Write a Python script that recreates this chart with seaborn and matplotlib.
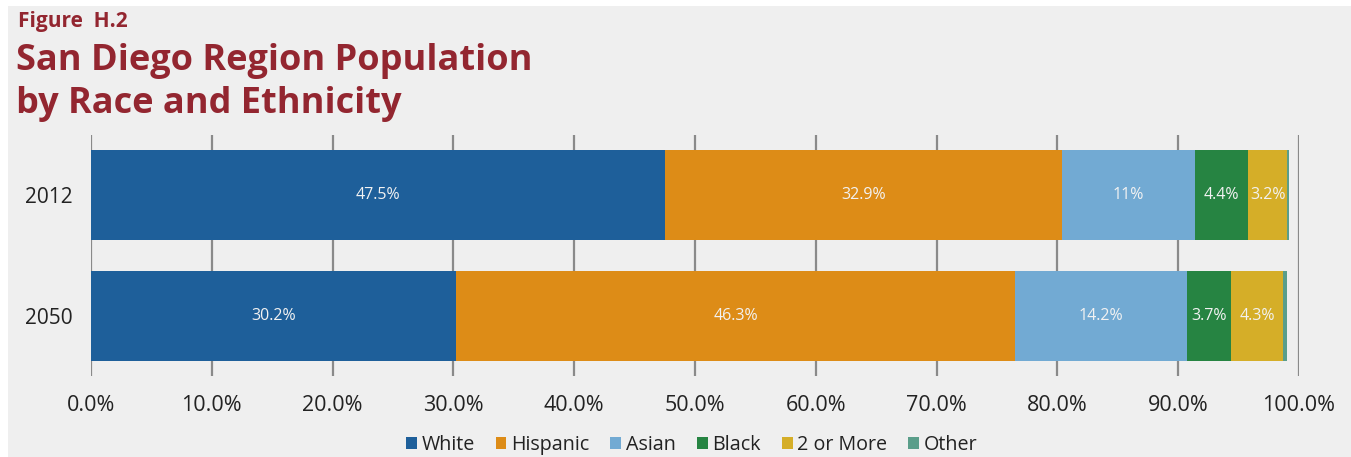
import matplotlib
matplotlib.use("Agg")
import matplotlib.pyplot as plt
import seaborn as sns
import numpy as np
import pandas as pd
from matplotlib.patches import Rectangle

years = ["2012", "2050"]
groups = ["White", "Hispanic", "Asian", "Black", "2 or More", "Other"]
values_2012 = [47.5, 32.9, 11.0, 4.4, 3.2, 0.2]
values_2050 = [30.2, 46.3, 14.2, 3.7, 4.3, 0.3]
labels_2012 = ["47.5%", "32.9%", "11%", "4.4%", "3.2%", ""]
labels_2050 = ["30.2%", "46.3%", "14.2%", "3.7%", "4.3%", ""]
colors = ["#1e5f9a", "#dd8c17", "#72aad3", "#268442", "#d5ae28", "#5a9e8a"]
xticks = [0, 10, 20, 30, 40, 50, 60, 70, 80, 90, 100]

sns.set_theme(style="white")
plt.rcParams["font.family"] = ["Open Sans", "DejaVu Sans"]

BG = "#efefef"
fig = plt.figure(figsize=(13.51, 4.57), dpi=100, facecolor="white")
fig.patches.append(Rectangle((8 / 1351, 0), 1 - 8 / 1351, 1 - 6 / 457,
                             transform=fig.transFigure, facecolor=BG,
                             edgecolor="none", zorder=-10))

ax = fig.add_axes([91 / 1351, (457 - 376) / 457, (1299 - 91) / 1351, (376 - 135) / 457])
ax.set_facecolor("none")

vals = np.array([values_2012, values_2050])
cum = np.cumsum(vals, axis=1)

# draw cumulative bars from longest to shortest so they stack visually
for j in range(len(groups) - 1, -1, -1):
    df = pd.DataFrame({"year": years, "val": cum[:, j]})
    sns.barplot(data=df, x="val", y="year", orient="h", color=colors[j],
                saturation=1, width=0.75, ax=ax, zorder=3, linewidth=0)

labels = [labels_2012, labels_2050]
for i in range(len(years)):
    for j in range(len(groups)):
        if labels[i][j]:
            ax.text(cum[i, j] - vals[i, j] / 2, i, labels[i][j], ha="center",
                    va="center", color="#f2f2f2", fontsize=11.5, zorder=5)

ax.set_xlim(0, 100)
ax.set_ylim(1.5, -0.5)
ax.set_xticks(xticks)
ax.set_xticklabels([f"{t:.1f}%" for t in xticks])
ax.grid(axis="x", color="#8a8a8a", linewidth=1.6, zorder=0)
ax.set_axisbelow(True)
for s in ax.spines.values():
    s.set_visible(False)
ax.tick_params(axis="both", length=0, labelsize=15.5, colors="#222222")
ax.tick_params(axis="y", labelsize=15)
ax.tick_params(axis="x", pad=14)
ax.tick_params(axis="y", pad=13.5)
ax.set_xlabel("")
ax.set_ylabel("")

# legend
handles = [Rectangle((0, 0), 1, 1, facecolor=c, edgecolor="none") for c in colors]
fig.legend(handles, groups, loc="center", bbox_to_anchor=(0.512, 12 / 457), ncol=6,
           frameon=False, fontsize=14.2, handlelength=0.55, handleheight=0.55,
           handletextpad=0.25, columnspacing=1.05, labelcolor="#222222")

title_color = "#932630"
fig.text(18 / 1351, 1 - 21 / 457, "Figure  H.2", fontsize=15, fontweight="bold",
         color=title_color, va="center", ha="left")
fig.text(16 / 1351, 1 - 61 / 457, "San Diego Region Population", fontsize=26,
         fontweight="bold", color=title_color, va="center", ha="left")
fig.text(16 / 1351, 1 - 104 / 457, "by Race and Ethnicity", fontsize=26,
         fontweight="bold", color=title_color, va="center", ha="left")

fig.savefig("out.png", dpi=100, facecolor="white")
